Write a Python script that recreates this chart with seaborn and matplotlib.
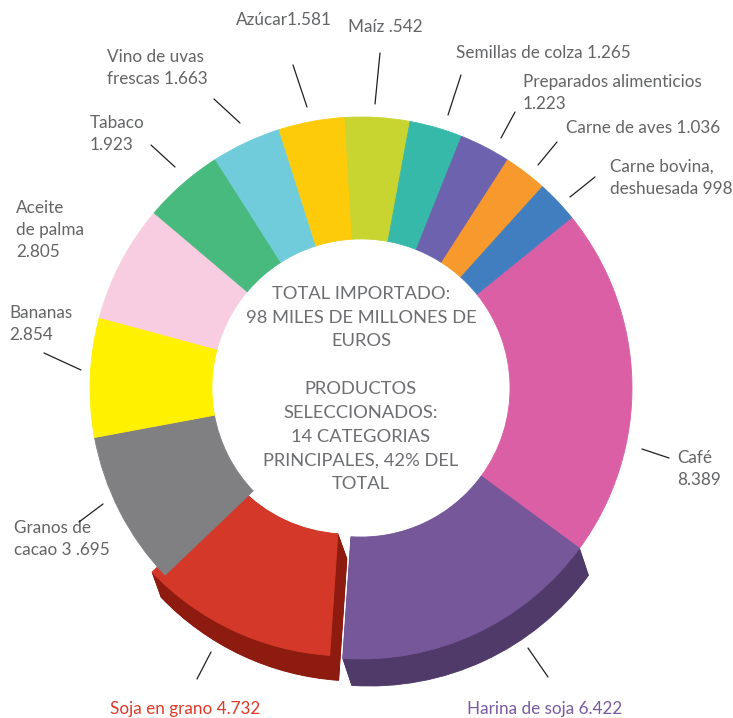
import matplotlib
matplotlib.use("Agg")
import matplotlib.pyplot as plt
from matplotlib.patches import Wedge
from matplotlib import font_manager
import seaborn as sns

# ---------------- data ----------------
categories = ["Café", "Harina de soja", "Soja en grano", "Granos de cacao", "Bananas",
              "Aceite de palma", "Tabaco", "Vino de uvas frescas", "Azúcar", "Maíz",
              "Semillas de colza", "Preparados alimenticios", "Carne de aves",
              "Carne bovina, deshuesada"]
values = [8389, 6422, 4732, 3695, 2854, 2805, 1923, 1663, 1581, 1542, 1265, 1223, 1036, 998]
label_texts = ["Café\n8.389", "Harina de soja 6.422", "Soja en grano 4.732",
               "Granos de\ncacao 3 .695", "Bananas\n2.854", "Aceite\nde palma\n2.805",
               "Tabaco\n1.923", "Vino de uvas\nfrescas 1.663", "Azúcar1.581", "Maíz .542",
               "Semillas de colza 1.265", "Preparados alimenticios\n1.223",
               "Carne de aves 1.036", "Carne bovina,\ndeshuesada 998"]
center_text = ("TOTAL IMPORTADO:\n98 MILES DE MILLONES DE\nEUROS\n\nPRODUCTOS\n"
               "SELECCIONADOS:\n14 CATEGORIAS\nPRINCIPALES, 42% DEL\nTOTAL")

# ---------------- style ----------------
colors = ["#DA5FA5", "#765799", "#D43829", "#808083", "#FFF100", "#F9CDE1", "#49BA7D",
          "#70CCDB", "#FECB0A", "#C8D42F", "#37B9AA", "#6C62AD", "#F7992D", "#407EC0"]
dark = {1: "#503A69", 2: "#8E1B10"}
label_colors = {1: "#7A5AA0", 2: "#E0392A"}
text_gray = "#636466"

# label layout in image pixels: (x_left, y_center)
label_pos = [(677, 469), (467, 709), (110, 709), (14, 539), (9, 324), (16, 230),
             (90, 134), (107, 68), (236, 20), (348, 27), (456, 53), (523, 93),
             (566, 128), (610, 178)]
leaders = [((642, 449), (669, 458)), ((528, 648), (548, 677)), ((211, 652), (197, 679)),
           ((79, 522), (103, 504)), ((44, 353), (81, 370)), None,
           ((151, 145), (175, 167)), ((214, 99), (240, 123)), ((293, 65), (307, 107)),
           ((380, 53), (375, 104)), ((461, 75), (448, 115)), ((515, 112), (501, 138)),
           ((557, 142), (538, 165)), ((595, 177), (570, 197))]

sns.set_theme(style="white")
sns.set_palette(colors)
avail = {f.name for f in font_manager.fontManager.ttflist}
fam = ["Lato"] if "Lato" in avail else ["Open Sans"]
plt.rcParams["font.family"] = fam + ["DejaVu Sans"]

W, H = 733, 718
fig = plt.figure(figsize=(W / 100, H / 100), dpi=100)
ax = fig.add_axes([0, 0, 1, 1])

cx, cy, R = 361, H - 388, 271
wedges, _ = ax.pie(values, colors=colors, startangle=39, counterclock=False,
                   center=(cx, cy), radius=R,
                   wedgeprops=dict(width=R * 0.45, linewidth=0.6))
for w, c in zip(wedges, colors):
    w.set_edgecolor(c)
    w.set_zorder(3)

# exploded / extruded slices
shift = {1: (0, 0), 2: (-13, 3)}
depth = {1: (9, -27), 2: (9, -25)}
for i in (1, 2):
    w = wedges[i]
    sx, sy = shift[i]
    w.set_center((cx + sx, cy + sy))
    dx, dy = depth[i]
    n = 40
    for k in range(1, n + 1):
        f = k / n
        ex = Wedge((cx + sx + dx * f, cy + sy + dy * f), R, w.theta1, w.theta2,
                   width=R * 0.45, facecolor=dark[i], edgecolor=dark[i], lw=0.6, zorder=1)
        ax.add_patch(ex)

# labels
for i, (txt, (x, y)) in enumerate(zip(label_texts, label_pos)):
    ax.text(x, H - y, txt, ha="left", va="center", fontsize=12.3,
            color=label_colors.get(i, text_gray), linespacing=1.45, zorder=5)
    if leaders[i] is not None:
        (x1, y1), (x2, y2) = leaders[i]
        ax.plot([x1, x2], [H - y1, H - y2], color="#231F20", lw=0.9, zorder=5)

ax.text(cx, H - 389, center_text, ha="center", va="center", fontsize=13.2,
        color="#6D6E71", linespacing=1.6, zorder=5)

ax.set_xlim(0, W)
ax.set_ylim(0, H)
ax.set_aspect("equal")
ax.axis("off")
fig.savefig("out.png", dpi=100, facecolor="white")
